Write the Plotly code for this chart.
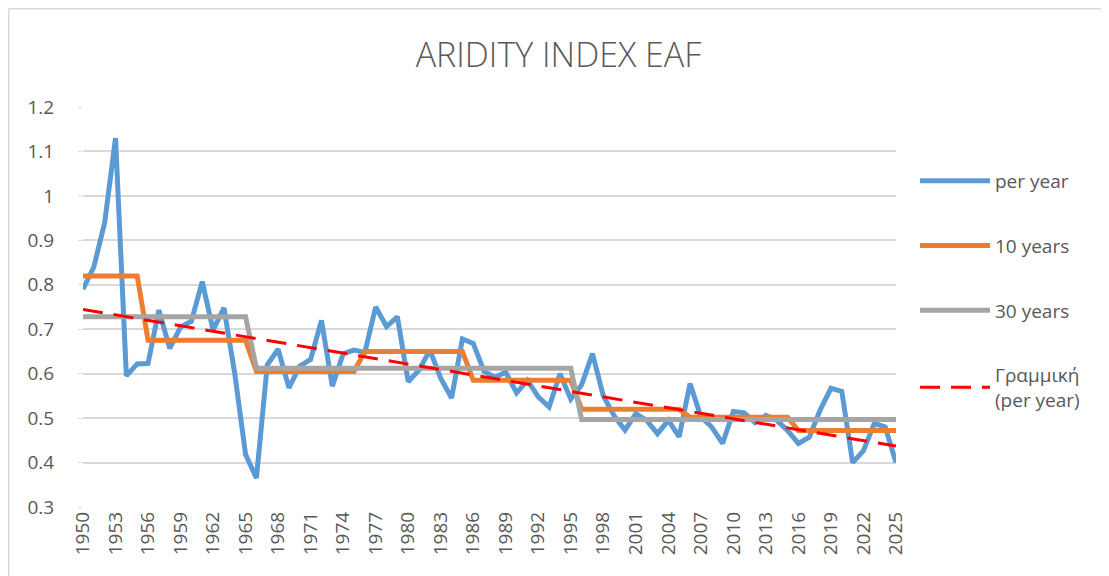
import numpy as np
import plotly.graph_objects as go

years = list(range(1950, 2026))
per_year = [
    0.79, 0.84, 0.94, 1.13, 0.595, 0.622, 0.623, 0.743, 0.657, 0.705,
    0.718, 0.807, 0.698, 0.748, 0.60, 0.418, 0.365, 0.62, 0.655, 0.568,
    0.617, 0.632, 0.72, 0.572, 0.645, 0.653, 0.648, 0.75, 0.706, 0.728,
    0.582, 0.608, 0.653, 0.59, 0.545, 0.678, 0.668, 0.605, 0.592, 0.603,
    0.557, 0.585, 0.548, 0.525, 0.60, 0.543, 0.575, 0.645, 0.55, 0.505,
    0.473, 0.51, 0.495, 0.465, 0.495, 0.458, 0.578, 0.503, 0.48, 0.443,
    0.515, 0.512, 0.49, 0.506, 0.495, 0.472, 0.443, 0.457, 0.518, 0.567,
    0.56, 0.40, 0.427, 0.488, 0.48, 0.40,
]

ten_year_periods = [(1950, 1955), (1956, 1965), (1966, 1975), (1976, 1985),
                    (1986, 1995), (1996, 2005), (2006, 2015), (2016, 2025)]
ten_year_values = [0.82, 0.675, 0.605, 0.65, 0.585, 0.52, 0.502, 0.472]

thirty_year_periods = [(1950, 1965), (1966, 1995), (1996, 2025)]
thirty_year_values = [0.728, 0.612, 0.497]

tick_years = list(range(1950, 2026, 3))
y_ticks = [0.3, 0.4, 0.5, 0.6, 0.7, 0.8, 0.9, 1.0, 1.1, 1.2]
y_tick_text = ["0.3", "0.4", "0.5", "0.6", "0.7", "0.8", "0.9", "1", "1.1", "1.2"]


def expand(periods, values):
    out = []
    for (a, b), v in zip(periods, values):
        out += [v] * (b - a + 1)
    return out


ten_year = expand(ten_year_periods, ten_year_values)
thirty_year = expand(thirty_year_periods, thirty_year_values)

coef = np.polyfit(years, per_year, 1)
trend = list(np.polyval(coef, years))

FONT = "Open Sans"
TXT = "#595959"

fig = go.Figure()
fig.add_trace(go.Scatter(x=years, y=per_year, mode="lines", name="per year",
                         line=dict(color="#5B9BD5", width=5), legendgroup="a"))
fig.add_trace(go.Scatter(x=years, y=ten_year, mode="lines", name="10 years",
                         line=dict(color="#ED7D31", width=5), legendgroup="b"))
fig.add_trace(go.Scatter(x=years, y=thirty_year, mode="lines", name="30 years",
                         line=dict(color="#A5A5A5", width=5), legendgroup="c"))
fig.add_trace(go.Scatter(x=years, y=trend, mode="lines", name="Γραμμική<br>(per year)",
                         line=dict(color="#FF0000", width=3, dash="20px,11px"),
                         legendgroup="d"))

# page body has an 8px margin: figure coordinates = page coordinates - 8
W, H = 1101, 568
L, R, T, B = 75, 888, 99, 499


def px2x(px):
    return (px - L) / (R - L)


def py2y(py):
    return (B - py) / (B - T)


# chart-area border (partially visible)
fig.add_shape(type="line", xref="paper", yref="paper",
              x0=px2x(0.75), x1=px2x(W + 5), y0=py2y(0.75), y1=py2y(0.75),
              line=dict(color="#D9D9D9", width=1.5))
fig.add_shape(type="line", xref="paper", yref="paper",
              x0=px2x(0.75), x1=px2x(0.75), y0=py2y(0.75), y1=py2y(H + 5),
              line=dict(color="#D9D9D9", width=1.5))

fig.update_layout(
    width=W, height=H,
    margin=dict(l=L, r=W - R, t=T, b=H - B),
    paper_bgcolor="white", plot_bgcolor="white",
    font=dict(family=FONT, color=TXT, size=18),
    title=dict(text="ARIDITY INDEX EAF", x=0.5, xref="container", xanchor="center",
               y=1 - 47 / H, yref="container", yanchor="middle",
               font=dict(family=FONT, size=34, color=TXT, weight=300)),
    legend=dict(x=px2x(907), y=py2y(154), xanchor="left", yanchor="top",
                font=dict(family=FONT, size=19, color=TXT),
                itemwidth=70,
                tracegroupgap=37, bgcolor="rgba(0,0,0,0)"),
    showlegend=True,
)
fig.update_xaxes(range=[1950, 2025], tickvals=tick_years,
                 ticktext=[str(y) for y in tick_years], tickangle=-90,
                 showgrid=False, zeroline=False, showline=False,
                 tickfont=dict(family=FONT, size=19, color=TXT), ticks="")
fig.update_yaxes(range=[0.3, 1.2], tickvals=y_ticks, ticktext=y_tick_text,
                 showgrid=True, gridcolor="#D9D9D9", gridwidth=1.5, zeroline=False,
                 showline=False, ticks="outside", ticklen=4, tickcolor="#D9D9D9",
                 ticklabelstandoff=20,
                 tickfont=dict(family=FONT, size=19, color=TXT))

fig.write_html("out.html")
